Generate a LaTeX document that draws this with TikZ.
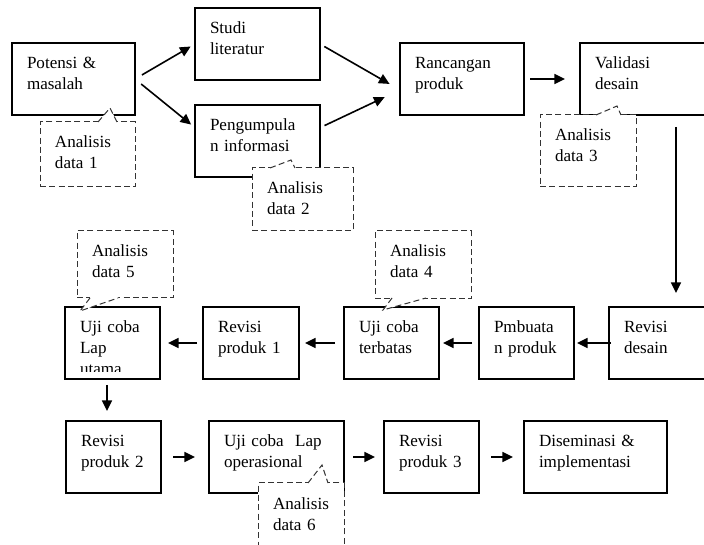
\documentclass[tikz,border=0pt]{standalone}
\usepackage{fontspec}
\setmainfont{Liberation Serif}
\usepackage{tikz}
\usetikzlibrary{arrows.meta}

\begin{document}
\begin{tikzpicture}[
    x=0.75pt, y=-0.75pt,
    stage/.style={rectangle, draw=black, line width=1.1pt, fill=white, anchor=north west, align=left, inner xsep=11.25pt, inner ysep=0pt, outer sep=0pt, text height=19.5pt, text depth=34.5pt, font=\fontsize{12.8pt}{15.75pt}\selectfont},
    note/.style={stage, draw=black!80, line width=0.75pt, dash pattern=on 4.5pt off 2.5pt},
    tipline/.style={draw=black!80, line width=0.75pt, dash pattern=on 4.5pt off 2.5pt},
    arr/.style={-{Triangle[length=8pt,width=7.5pt]}, line width=1.2pt}
]
    \useasboundingbox (0,0) rectangle (704,545);

    \node [stage, text width=69.75pt] (potensi) at (12,43) {Potensi \&\\masalah};
    \node [stage, text width=71.25pt] (studi) at (195,8) {Studi\\literatur};
    \node [stage, text width=71.25pt] (pengumpulan) at (195,105) {Pengumpula\\n informasi};
    \node [stage, text width=70.5pt] (rancangan) at (400,43) {Rancangan\\produk};
    \node [stage, text width=72pt] (validasi) at (580,43) {Validasi\\desain};

    \node [stage, text width=50.25pt] (revdesain) at (609,307) {Revisi\\desain};
    \node [stage, text width=48.75pt] (pembuatan) at (479,307) {Pmbuata\\n produk};
    \node [stage, text width=48.75pt] (ujiterbatas) at (344,307) {Uji coba\\terbatas};
    \node [stage, text width=49.5pt] (revisi1) at (203,307) {Revisi\\produk 1};
    \begin{scope}
        \clip (60,300) rectangle (170,372);
        \node [stage, text width=48.75pt] (ujiutama) at (65,307) {Uji coba\\Lap\\utama};
    \end{scope}
    \draw [line width=1.1pt] (ujiutama.south west) rectangle (ujiutama.north east);

    \node [stage, text width=48.75pt] (revisi2) at (66,421) {Revisi\\produk 2};
    \node [stage, text width=78.75pt] (ujioperasional) at (209,421) {Uji coba\ \ Lap\\operasional};
    \node [stage, text width=48.75pt] (revisi3) at (384,421) {Revisi\\produk 3};
    \node [stage, text width=84.75pt] (diseminasi) at (524,421) {Diseminasi \&\\implementasi};

    \draw [arr, shorten <=6pt, shorten >=3.75pt] (potensi.east) -- (studi.west);
    \draw [arr, shorten <=6pt, shorten >=3.75pt] (potensi.east) -- (pengumpulan.168);
    \draw [arr, shorten <=3.75pt, shorten >=9pt] (studi.east) -- (rancangan.190);
    \draw [arr, shorten <=3.75pt, shorten >=12.75pt] (pengumpulan.12) -- (rancangan.190);
    \draw [arr, shorten <=4.5pt, shorten >=11.25pt] (rancangan.east) -- (validasi.west);
    \coordinate (drop) at (676,0);
    \draw [arr, shorten <=9pt, shorten >=10.5pt] (validasi.south -| drop) -- (revdesain.north -| drop);
    \draw [arr, shorten <=-1.5pt, shorten >=2.25pt] (revdesain.west) -- (pembuatan.east);
    \draw [arr, shorten <=5.25pt, shorten >=3pt] (pembuatan.west) -- (ujiterbatas.east);
    \draw [arr, shorten <=6.75pt, shorten >=4.5pt] (ujiterbatas.west) -- (revisi1.east);
    \draw [arr, shorten <=4.5pt, shorten >=6pt] (revisi1.west) -- (ujiutama.east);
    \coordinate (down) at (107,0);
    \draw [arr, shorten <=4.5pt, shorten >=7.5pt] (ujiutama.south -| down) -- (revisi2.north -| down);
    \draw [arr, shorten <=9pt, shorten >=10.5pt] (revisi2.east) -- (ujioperasional.west);
    \draw [arr, shorten <=6.75pt, shorten >=6.75pt] (ujioperasional.east) -- (revisi3.west);
    \draw [arr, shorten <=9pt, shorten >=8.25pt] (revisi3.east) -- (diseminasi.west);

    \node [note, text width=48.75pt, text depth=29.25pt] (analisis1) at (40,122) {Analisis\\data 1};
    \node [note, text width=53.25pt, text depth=27.75pt] (analisis2) at (252,168) {Analisis\\data 2};
    \node [note, text width=49.5pt] (analisis3) at (540,115) {Analisis\\data 3};
    \node [note, text width=49.5pt, text depth=31.5pt] (analisis4) at (375,231) {Analisis\\data 4};
    \node [note, text width=49.5pt, text depth=30.75pt] (analisis5) at (77,231) {Analisis\\data 5};
    \node [note, text width=42pt, text depth=31.5pt] (analisis6) at (258,483) {Analisis\\data 6};

    \fill [white] (98,122) -- (110,108) -- (117,122) -- (117,124) -- (98,124) -- cycle;
    \draw [tipline] (98,122) -- (110,108) -- (117,122);
    \fill [white] (270,168) -- (291,160) -- (295,168) -- (295,170) -- (270,170) -- cycle;
    \draw [tipline] (270,168) -- (291,160) -- (295,168);
    \fill [white] (596,115) -- (617,106) -- (621,115) -- (621,117) -- (596,117) -- cycle;
    \draw [tipline] (596,115) -- (617,106) -- (621,115);
    \fill [white] (392,298) -- (383,310) -- (426,298) -- (426,296) -- (392,296) -- cycle;
    \draw [tipline] (392,298) -- (383,310) -- (426,298);
    \fill [white] (90,298) -- (80,311) -- (118,298) -- (118,296) -- (90,296) -- cycle;
    \draw [tipline] (90,298) -- (80,311) -- (118,298);
    \fill [white] (308,483) -- (322,465) -- (328,483) -- (328,485) -- (308,485) -- cycle;
    \draw [tipline] (308,483) -- (322,465) -- (328,483);
\end{tikzpicture}
\end{document}
